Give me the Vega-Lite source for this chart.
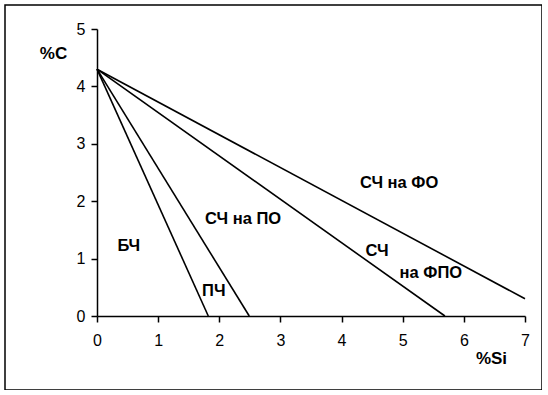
{
  "$schema": "https://vega.github.io/schema/vega-lite/v6.json",
  "autosize": {"type": "none"},
  "padding": {"left": 5, "top": 5, "right": 0, "bottom": 0},
  "width": 537,
  "height": 385,
  "config": {
    "font": "Liberation Sans",
    "view": {"stroke": "black", "strokeWidth": 1.5},
    "axis": {"grid": false, "labelFlush": false, "domainColor": "black", "tickColor": "black", "labelColor": "black", "titleColor": "black", "domainWidth": 1.5, "tickWidth": 1.5, "tickSize": 6, "labelFontSize": 16, "labelFont": "Liberation Sans", "titleFont": "Liberation Sans", "titleFontSize": 17, "titleFontWeight": "bold", "format": "d"}
  },
  "datasets": {
    "lines": [
      {"line": "a", "si": 0, "c": 4.3}, {"line": "a", "si": 1.82, "c": 0},
      {"line": "b", "si": 0, "c": 4.3}, {"line": "b", "si": 2.49, "c": 0},
      {"line": "c", "si": 0, "c": 4.3}, {"line": "c", "si": 5.69, "c": 0},
      {"line": "d", "si": 0, "c": 4.3}, {"line": "d", "si": 7, "c": 0.3}
    ],
    "labels": [
      {"t": "БЧ", "si": 0.52, "c": 1.22},
      {"t": "ПЧ", "si": 1.91, "c": 0.44},
      {"t": "СЧ на ПО", "si": 2.39, "c": 1.69},
      {"t": "СЧ на ФО", "si": 4.94, "c": 2.32},
      {"t": "СЧ", "si": 4.58, "c": 1.13},
      {"t": "на ФПО", "si": 5.46, "c": 0.75}
    ]
  },
  "layer": [
    {
      "data": {"name": "lines"},
      "mark": {"type": "line", "color": "black", "strokeWidth": 1.6},
      "encoding": {
        "x": {"field": "si", "type": "quantitative", "scale": {"domain": [0, 7], "range": [92, 520], "nice": false, "zero": false},
          "axis": {"title": "%Si", "values": [0,1,2,3,4,5,6,7], "format": "d", "labelFlush": false, "offset": -74, "titleX": 486, "titleY": 42, "titleAlign": "center", "titleBaseline": "middle", "labelPadding": 10}},
        "y": {"field": "c", "type": "quantitative", "scale": {"domain": [0, 5], "range": [311, 24], "nice": false, "zero": false},
          "axis": {"title": "%C", "values": [0,1,2,3,4,5], "format": "d", "labelFlush": false, "offset": -92, "titleX": -44, "titleY": 48, "titleAngle": 0, "titleAlign": "center", "titleBaseline": "middle", "labelPadding": 6}},
        "detail": {"field": "line"}
      }
    },
    {
      "data": {"name": "labels"},
      "mark": {"type": "text", "fontWeight": "bold", "fontSize": 16.5, "color": "black", "align": "center", "baseline": "middle"},
      "encoding": {
        "x": {"field": "si", "type": "quantitative"},
        "y": {"field": "c", "type": "quantitative"},
        "text": {"field": "t"}
      }
    }
  ]
}
